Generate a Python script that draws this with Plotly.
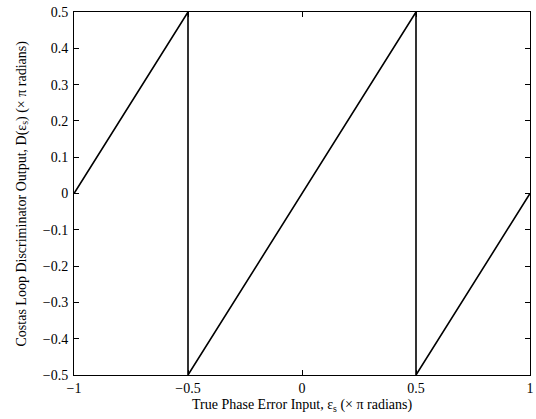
import plotly.graph_objects as go

phase_error = [-1.0, -0.5, -0.5, 0.5, 0.5, 1.0]
discriminator_out = [0.0, 0.5, -0.5, 0.5, -0.5, 0.0]
x_ticks = [-1, -0.5, 0, 0.5, 1]
y_ticks = [-0.5, -0.4, -0.3, -0.2, -0.1, 0, 0.1, 0.2, 0.3, 0.4, 0.5]
x_title = "True Phase Error Input, \u03b5<sub>s</sub> (\u00d7 \u03c0 radians)"
y_title = "Costas Loop Discriminator Output, D(\u03b5<sub>s</sub>) (\u00d7 \u03c0 radians)"

font = dict(family="Liberation Serif, Times New Roman, serif", size=14, color="black")


def fmt(v):
    return ("\u2212" if v < 0 else "") + f"{abs(v):g}"


fig = go.Figure()
fig.add_trace(go.Scatter(x=phase_error, y=discriminator_out, mode="lines",
                         line=dict(color="black", width=1.6), showlegend=False))

axis_common = dict(showline=True, linecolor="black", linewidth=1, mirror="ticks",
                   ticks="inside", ticklen=5, tickcolor="black", showgrid=False,
                   zeroline=False, tickfont=font, ticklabeloverflow="allow")
fig.update_xaxes(range=[-1, 1], tickvals=x_ticks, ticktext=[fmt(v) for v in x_ticks],
                 ticklabelstandoff=0, **axis_common)
fig.update_yaxes(range=[-0.5, 0.5], tickvals=y_ticks, ticktext=[fmt(v) for v in y_ticks],
                 ticklabelstandoff=2, **axis_common)

fig.add_annotation(text=x_title, xref="paper", yref="paper", x=0.5, y=0,
                   xanchor="center", yanchor="middle", yshift=-30, showarrow=False, font=font)
fig.add_annotation(text=y_title, xref="paper", yref="paper", x=0, y=0.5, textangle=-90,
                   xanchor="center", yanchor="middle", xshift=-52, showarrow=False, font=font)

fig.update_layout(width=536, height=419, margin=dict(l=74, r=2, t=12, b=44),
                  plot_bgcolor="white", paper_bgcolor="white", font=font)
fig.write_html("out.html")
